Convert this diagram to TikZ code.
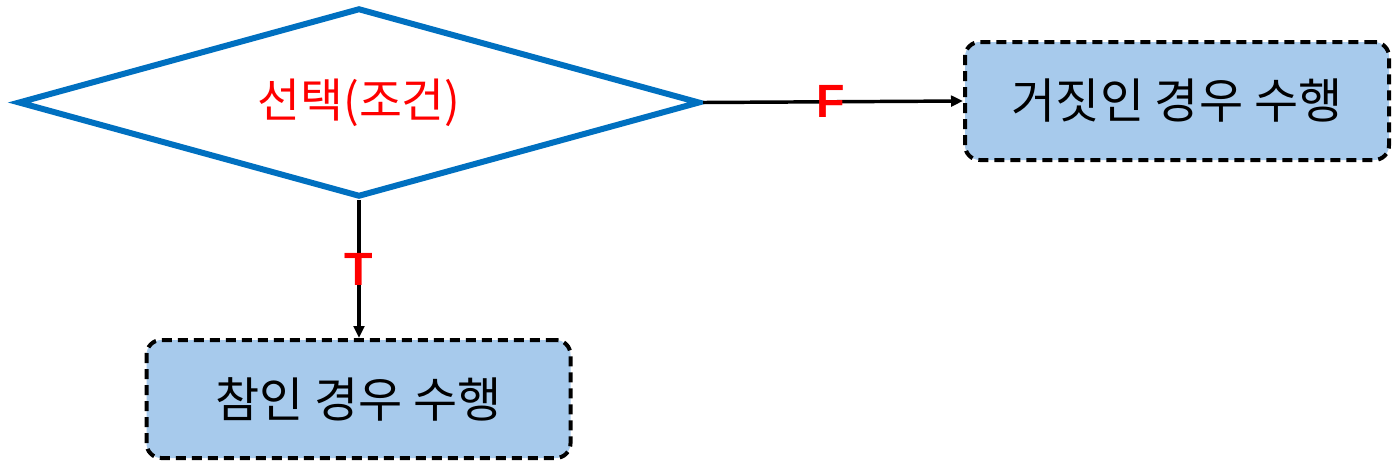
\documentclass[tikz,border=0pt]{standalone}
\usepackage{fontspec}
\setmainfont{Liberation Sans}
\newfontfamily\kr{Noto Sans CJK KR}
\usetikzlibrary{shapes.geometric,arrows.meta}
\definecolor{flowblue}{RGB}{0,112,192}
\definecolor{boxfill}{RGB}{167,202,236}
\tikzset{
  actbox/.style={draw, line width=3pt, dash pattern=on 7.5pt off 4.5pt, rounded corners=11pt,
    fill=boxfill, minimum width=318pt, minimum height=88.5pt, font=\kr\fontsize{36}{40}\selectfont},
  tflabel/.style={text=red, font=\bfseries\fontsize{35}{38}\selectfont, inner sep=0pt},
  flow/.style={-{Triangle[length=9pt,width=8pt]}, line width=2.6pt}
}
\begin{document}
\begin{tikzpicture}[x=0.75pt,y=-0.75pt]
\useasboundingbox (0,0) rectangle (1394,465);
\node[diamond, shape aspect=3.61, draw=flowblue, line width=4.5pt, inner sep=0pt, minimum width=511.5pt,
  minimum height=141.75pt, text=red, font=\kr\fontsize{35}{38}\selectfont] (c) at (359,102.5) {선택(조건)};
\node[actbox] (f) at (1177,101) {거짓인 경우 수행};
\node[actbox] (t) at (358.5,399) {참인 경우 수행};
\draw[flow] (c.east) -- node[tflabel, pos=0.49] {F} (f.west);
\draw[flow] (c.south) -- node[tflabel, pos=0.5] {T} (t.north -| c.south);
\end{tikzpicture}
\end{document}
